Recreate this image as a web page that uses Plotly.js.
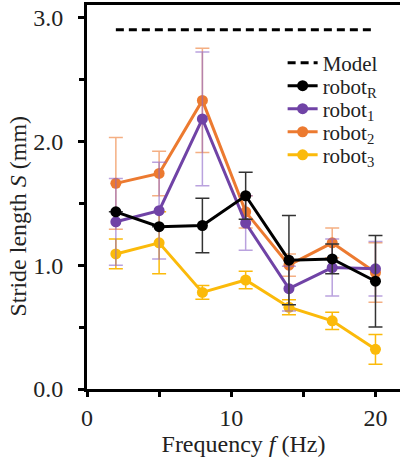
<!DOCTYPE html>
<html>
<head>
<meta charset="utf-8">
<script src="https://cdn.plot.ly/plotly-3.0.1.min.js"></script>
<style>html,body{margin:0;padding:0;background:#fff;}#chart{width:400px;height:457px;}</style>
</head>
<body>
<div id="chart"></div>
<script>
// Frequency (Hz)
const freq = [2, 5, 8, 11, 14, 17, 20];
// Model prediction
const modelX = [2, 20];
const modelY = [2.90, 2.90];
// Stride length means (mm)
const robotR = [1.43, 1.31, 1.32, 1.56, 1.04, 1.05, 0.87];
const robotR_err = [0, 0, 0.22, 0.19, 0.36, 0.12, 0.37];
const robot1 = [1.35, 1.44, 2.18, 1.34, 0.81, 0.98, 0.97];
const robot1_err = [0.35, 0.39, 0.54, 0.22, 0.18, 0.23, 0.22];
const robot2 = [1.66, 1.74, 2.33, 1.43, 1.00, 1.18, 0.94];
const robot2_err = [0.37, 0.18, 0.42, 0.13, 0.09, 0.12, 0.24];
const robot3 = [1.09, 1.18, 0.78, 0.88, 0.66, 0.55, 0.32];
const robot3_err = [0.12, 0.25, 0.055, 0.07, 0.06, 0.07, 0.12];
// Axis titles
const xTitle = 'Frequency <i>f</i> (Hz)';
const yTitle = 'Stride length <i>S</i> (mm)';

function series(name, y, err, color, errColor, leg) {
  return {
    x: freq, y: y, name: name, type: 'scatter', mode: 'lines+markers',
    line: {color: color, width: 3},
    marker: {color: color, size: 11},
    error_y: {type: 'data', array: err, visible: true, color: errColor, thickness: 1.5, width: 7},
    legend: leg
  };
}

const traces = [
  {x: modelX, y: modelY, name: 'Model', type: 'scatter', mode: 'lines',
   line: {color: '#000', width: 3, dash: '8px,5px'}, legend: 'legend'},
  series('robot<sub>3</sub>', robot3, robot3_err, '#fbba0a', '#fbba0a', 'legend5'),
  series('robot<sub>2</sub>', robot2, robot2_err, '#ec7a30', 'rgba(236,122,48,0.6)', 'legend4'),
  series('robot<sub>1</sub>', robot1, robot1_err, '#7043a6', 'rgba(140,100,200,0.6)', 'legend3'),
  series('robot<sub>R</sub>', robotR, robotR_err, '#000000', '#333333', 'legend2')
];

const fontFam = "'Liberation Serif', 'Times New Roman', serif";
function leg(y) {
  return {x: 0.625, y: y, xanchor: 'left', yanchor: 'middle',
          bgcolor: 'rgba(0,0,0,0)', font: {family: fontFam, size: 21, color: '#222'}};
}
const layout = {
  width: 400, height: 457,
  margin: {l: 87, r: 0, t: 5, b: 68},
  paper_bgcolor: '#fff', plot_bgcolor: '#fff',
  font: {family: fontFam, color: '#222', size: 24},
  showlegend: true,
  legend: leg(0.849), legend2: leg(0.789), legend3: leg(0.729), legend4: leg(0.669), legend5: leg(0.609),
  xaxis: {
    range: [0, 21.7], tickvals: [0, 10, 20], ticktext: ['0', '10', '20'],
    ticks: 'outside', ticklen: 5, tickwidth: 3, tickcolor: '#000',
    minor: {tickvals: [5, 15], ticks: 'outside', ticklen: 5, tickwidth: 3, tickcolor: '#000'},
    showline: true, linecolor: '#000', linewidth: 3, mirror: true,
    showgrid: false, zeroline: false,
    tickfont: {family: fontFam, size: 24, color: '#222'},
    title: {text: xTitle, font: {family: fontFam, size: 24, color: '#222'}, standoff: 3}
  },
  yaxis: {
    range: [0, 3.1], tickvals: [0, 1, 2, 3], tickformat: '.1f',
    ticks: 'outside', ticklen: 6, tickwidth: 3, tickcolor: '#000',
    minor: {tickvals: [0.5, 1.5, 2.5], ticks: 'outside', ticklen: 5, tickwidth: 3, tickcolor: '#000'},
    showline: true, linecolor: '#000', linewidth: 3,
    showgrid: false, zeroline: false, ticklabelstandoff: 10,
    tickfont: {family: fontFam, size: 24, color: '#222'}
  },
  annotations: [{
    text: yTitle, xref: 'paper', yref: 'paper', x: -0.2204, y: 0.449,
    xanchor: 'center', yanchor: 'middle', textangle: -90, showarrow: false,
    font: {family: fontFam, size: 24, color: '#222'}
  }]
};

Plotly.newPlot('chart', traces, layout, {displayModeBar: false, staticPlot: true});
</script>
</body>
</html>
